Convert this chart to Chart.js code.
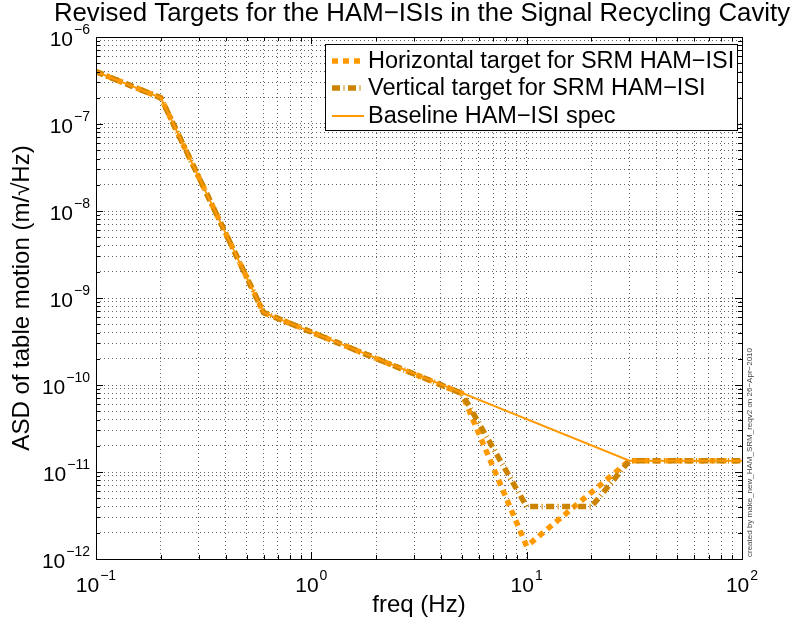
<!DOCTYPE html>
<html>
<head>
<meta charset="utf-8">
<script src="https://cdn.jsdelivr.net/npm/chart.js@4/dist/chart.umd.min.js"></script>
<style>
  html, body { margin: 0; padding: 0; background: #fff; }
  #wrap { width: 793px; height: 627px; }
</style>
</head>
<body>
<div id="wrap"><canvas id="asdChart" width="793" height="627"></canvas></div>
<script>
// values
const freqBase = [0.1, 0.2, 0.6, 30, 100];
const asdBase = [4e-7, 2e-7, 6.8e-10, 1.35e-11, 1.35e-11];

const freqHoriz = [0.1, 0.2, 0.6, 5, 10, 30, 100];
const asdHoriz = [4e-7, 2e-7, 6.8e-10, 8e-11, 1.4e-12, 1.35e-11, 1.35e-11];

const freqVert = [0.1, 0.2, 0.6, 5, 10, 20, 30, 100];
const asdVert = [4e-7, 2e-7, 6.8e-10, 8e-11, 4e-12, 4e-12, 1.35e-11, 1.35e-11];

const xDecades = [-1, 0, 1, 2];
const yDecades = [-12, -11, -10, -9, -8, -7, -6];

const seriesLabels = ["Horizontal target for SRM HAM\u2212ISI", "Vertical target for SRM HAM\u2212ISI", "Baseline HAM\u2212ISI spec"];
const titleText = "Revised Targets for the HAM\u2212ISIs in the Signal Recycling Cavity";
const xTitle = "freq (Hz)";
const yTitle = "ASD of table motion (m/\u221AHz)";
const stampText = "created by make_new_HAM_SRM_reqv2 on 26\u2212Apr\u22122010";

const FONT = "'Liberation Sans', Arial, Helvetica, sans-serif";
const ORANGE = "#ff9900";
const DARK_ORANGE = "#cc8400";
const DASH_H = [6, 5];
const DASH_V = [8, 3.5, 1, 3.5];

function toPoints(xs, ys) {
    return xs.map((x, i) => ({ x: x, y: ys[i] }));
}

// 1..9 x 10^k inside the decades
function logTicks(decades) {
    const out = [];
    for (let i = 0; i < decades.length - 1; i++) {
        for (let m = 1; m < 10; m++) out.push({ value: m * Math.pow(10, decades[i]), major: m === 1 });
    }
    out.push({ value: Math.pow(10, decades[decades.length - 1]), major: true });
    return out;
}

function drawPow(ctx, exp, x, y, align) {
    const base = "10";
    const sup = String(exp).replace("-", "\u2212");
    ctx.font = "21px " + FONT;
    const wb = ctx.measureText(base).width;
    ctx.font = "14px " + FONT;
    const ws = ctx.measureText(sup).width;
    const total = wb + ws + 1;
    let x0 = align === "center" ? x - total / 2 : x - total;
    ctx.textAlign = "left";
    ctx.textBaseline = "alphabetic";
    ctx.fillStyle = "#000";
    ctx.font = "21px " + FONT;
    ctx.fillText(base, x0, y);
    ctx.font = "14px " + FONT;
    ctx.fillText(sup, x0 + wb + 1, y - 12);
}

const decorPlugin = {
    id: "decor",
    afterDraw(chart) {
        const ctx = chart.ctx;
        const a = chart.chartArea;
        const xs = chart.scales.x;
        const ys = chart.scales.y;
        ctx.save();

        // tick marks, pointing inward on all four sides
        ctx.strokeStyle = "#000";
        ctx.lineWidth = 1;
        ctx.setLineDash([]);
        ctx.beginPath();
        logTicks(xDecades).forEach(t => {
            const px = Math.round(xs.getPixelForValue(t.value)) + 0.5;
            const len = t.major ? 7 : 4;
            ctx.moveTo(px, a.bottom); ctx.lineTo(px, a.bottom - len);
            ctx.moveTo(px, a.top); ctx.lineTo(px, a.top + len);
        });
        logTicks(yDecades).forEach(t => {
            const py = Math.round(ys.getPixelForValue(t.value)) + 0.5;
            const len = t.major ? 7 : 4;
            ctx.moveTo(a.left, py); ctx.lineTo(a.left + len, py);
            ctx.moveTo(a.right, py); ctx.lineTo(a.right - len, py);
        });
        ctx.stroke();

        // frame
        ctx.strokeRect(Math.round(a.left) + 0.5, Math.round(a.top) + 0.5,
            Math.round(a.right - a.left), Math.round(a.bottom - a.top));

        // tick labels
        xDecades.forEach(d => drawPow(ctx, d, xs.getPixelForValue(Math.pow(10, d)), a.bottom + 33, "center"));
        yDecades.forEach(d => drawPow(ctx, d, a.left - 6, ys.getPixelForValue(Math.pow(10, d)) + 9, "right"));

        // titles
        ctx.fillStyle = "#000";
        ctx.textAlign = "center";
        ctx.textBaseline = "alphabetic";
        ctx.font = "25.8px " + FONT;
        ctx.fillText(titleText, 422, 21);
        ctx.font = "24px " + FONT;
        ctx.fillText(xTitle, (a.left + a.right) / 2, 612);
        ctx.save();
        ctx.translate(29, (a.top + a.bottom) / 2);
        ctx.rotate(-Math.PI / 2);
        ctx.fillText(yTitle, 0, 0);
        ctx.restore();

        // little stamp on the right
        ctx.save();
        ctx.translate(752, a.bottom - 2);
        ctx.rotate(-Math.PI / 2);
        ctx.textAlign = "left";
        ctx.font = "8px " + FONT;
        ctx.fillStyle = "#444";
        ctx.fillText(stampText, 0, 0);
        ctx.restore();

        // legend box
        const lx = 325, ly = 44, lw = 412, lh = 86;
        ctx.fillStyle = "#fff";
        ctx.fillRect(lx, ly, lw, lh);
        ctx.strokeStyle = "#000";
        ctx.strokeRect(lx + 0.5, ly + 0.5, lw, lh);
        const rows = [61, 88, 116];
        const styles = [
            { color: ORANGE, width: 5.5, dash: DASH_H },
            { color: DARK_ORANGE, width: 5.5, dash: DASH_V },
            { color: ORANGE, width: 2, dash: [] }
        ];
        rows.forEach((ry, i) => {
            ctx.beginPath();
            ctx.strokeStyle = styles[i].color;
            ctx.lineWidth = styles[i].width;
            ctx.setLineDash(styles[i].dash);
            ctx.moveTo(332, ry);
            ctx.lineTo(364, ry);
            ctx.stroke();
            ctx.setLineDash([]);
            ctx.fillStyle = "#000";
            ctx.font = "23.5px " + FONT;
            ctx.textAlign = "left";
            ctx.textBaseline = "middle";
            ctx.fillText(seriesLabels[i], 368, ry + 1);
        });

        ctx.restore();
    }
};

const gridOpts = { color: "rgba(0,0,0,0.6)", lineWidth: 1, drawTicks: false };
const borderOpts = { display: false, dash: [1, 3] };

const chart = new Chart(document.getElementById("asdChart"), {
    type: "line",
    data: {
        datasets: [
            {
                label: seriesLabels[2],
                data: toPoints(freqBase, asdBase),
                borderColor: ORANGE,
                borderWidth: 2,
                order: 0
            },
            {
                label: seriesLabels[1],
                data: toPoints(freqVert, asdVert),
                borderColor: DARK_ORANGE,
                borderWidth: 5.5,
                borderDash: DASH_V,
                order: 1
            },
            {
                label: seriesLabels[0],
                data: toPoints(freqHoriz, asdHoriz),
                borderColor: ORANGE,
                borderWidth: 5.5,
                borderDash: DASH_H,
                order: 2
            }
        ]
    },
    options: {
        responsive: false,
        animation: false,
        devicePixelRatio: 1,
        layout: { padding: { top: 37, right: 51, left: 0, bottom: 0 } },
        elements: {
            point: { radius: 0 },
            line: { tension: 0, borderCapStyle: "butt", borderJoinStyle: "miter", fill: false }
        },
        plugins: {
            legend: { display: false },
            tooltip: { enabled: false },
            title: { display: false }
        },
        scales: {
            x: {
                type: "logarithmic",
                min: 0.1,
                max: 100,
                afterBuildTicks: s => { s.ticks = logTicks(xDecades).map(t => ({ value: t.value })); },
                afterFit: s => { s.height = 627 - 559; },
                ticks: { display: false },
                border: borderOpts,
                grid: gridOpts
            },
            y: {
                type: "logarithmic",
                min: 1e-12,
                max: 1e-6,
                afterBuildTicks: s => { s.ticks = logTicks(yDecades).map(t => ({ value: t.value })); },
                afterFit: s => { s.width = 96; },
                ticks: { display: false },
                border: borderOpts,
                grid: gridOpts
            }
        }
    },
    plugins: [decorPlugin]
});
</script>
</body>
</html>
